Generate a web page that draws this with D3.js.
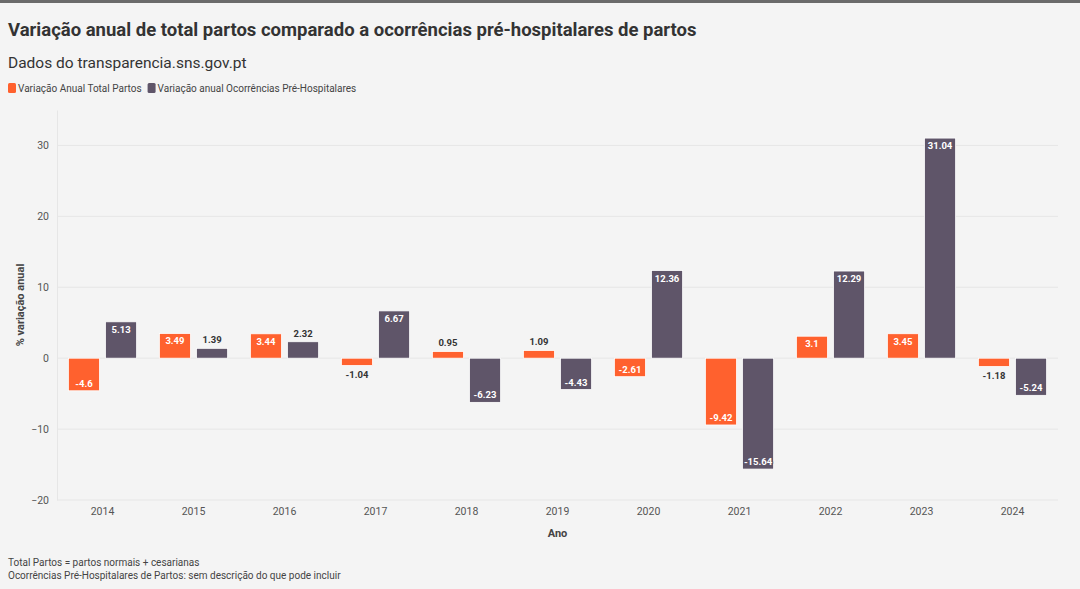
<!DOCTYPE html>
<html>
<head>
    <meta charset="utf-8">
    <title>Variação anual partos</title>
    <script src="https://cdnjs.cloudflare.com/ajax/libs/d3/7.8.5/d3.min.js"></script>
    <style>
        body { margin: 0; background: #f4f4f4; font-family: Roboto, "Noto Sans", sans-serif; }
        .topbar { height: 3px; background: #6b6b6b; }
    </style>
</head>
<body>
    <div class="topbar"></div>
    <div id="chart"></div>
    <script>
        const years = ["2014", "2015", "2016", "2017", "2018", "2019", "2020", "2021", "2022", "2023", "2024"];
        const totalPartos = [-4.6, 3.49, 3.44, -1.04, 0.95, 1.09, -2.61, -9.42, 3.1, 3.45, -1.18];
        const ocorrencias = [5.13, 1.39, 2.32, 6.67, -6.23, -4.43, 12.36, -15.64, 12.29, 31.04, -5.24];
        const seriesNames = ["Variação Anual Total Partos", "Variação anual Ocorrências Pré-Hospitalares"];
        const colors = ["#ff612e", "#5f5569"];
        const yTicks = [-20, -10, 0, 10, 20, 30];

        const width = 1080, height = 586;
        const margin = { top: 107, right: 22, bottom: 89, left: 57 };

        const svg = d3.select("#chart")
            .append("svg")
            .attr("width", width)
            .attr("height", height)
            .style("display", "block");

        // titles
        svg.append("text")
            .attr("x", 8).attr("y", 33)
            .attr("font-size", 18.5).attr("font-weight", 700).attr("fill", "#333")
            .text("Variação anual de total partos comparado a ocorrências pré-hospitalares de partos");
        svg.append("text")
            .attr("x", 8).attr("y", 65)
            .attr("font-size", 15.5).attr("fill", "#333")
            .text("Dados do transparencia.sns.gov.pt");

        // legend
        const legend = svg.append("g").attr("transform", "translate(8,80)");
        let lx = 0;
        seriesNames.forEach((name, i) => {
            const g = legend.append("g").attr("transform", `translate(${lx},0)`);
            g.append("rect").attr("width", 8).attr("height", 10).attr("rx", 1.5).attr("fill", colors[i]);
            const t = g.append("text").attr("x", 10).attr("y", 9)
                .attr("font-size", 10).attr("fill", "#444").text(name);
            lx += 10 + t.node().getComputedTextLength() + 6;
        });

        const x = d3.scaleBand()
            .domain(years)
            .range([margin.left, width - margin.right])
            .paddingInner(0.25)
            .paddingOuter(0.125);

        const xSub = d3.scaleBand()
            .domain([0, 1])
            .range([0, x.bandwidth()])
            .paddingInner(0.16);

        const y = d3.scaleLinear()
            .domain([-20, 35])
            .range([height - margin.bottom, margin.top]);

        // grid
        svg.append("g")
            .selectAll("line")
            .data(yTicks)
            .join("line")
            .attr("x1", margin.left).attr("x2", width - margin.right)
            .attr("y1", d => y(d)).attr("y2", d => y(d))
            .attr("stroke", "#e6e6e6").attr("stroke-width", 1);

        // y axis
        const yAxis = svg.append("g")
            .attr("transform", `translate(${margin.left},0)`)
            .call(d3.axisLeft(y).tickValues(yTicks).tickSize(0).tickPadding(8));
        yAxis.select(".domain").attr("stroke", "#e6e6e6");
        yAxis.selectAll("text").attr("font-size", 10.5).attr("fill", "#555").attr("font-family", "Roboto, sans-serif");

        // x axis
        const xAxis = svg.append("g")
            .attr("transform", `translate(0,${y(-20)})`)
            .call(d3.axisBottom(x).tickSize(0).tickPadding(8));
        xAxis.select(".domain").remove();
        xAxis.selectAll("text").attr("font-size", 10.5).attr("fill", "#555").attr("font-family", "Roboto, sans-serif");

        svg.append("text")
            .attr("transform", `translate(24,${(y(35) + y(-20)) / 2}) rotate(-90)`)
            .attr("text-anchor", "middle")
            .attr("font-size", 11).attr("font-weight", 700).attr("fill", "#444")
            .text("% variação anual");
        svg.append("text")
            .attr("x", (margin.left + width - margin.right) / 2).attr("y", 534)
            .attr("text-anchor", "middle")
            .attr("font-size", 11).attr("font-weight", 700).attr("fill", "#444")
            .text("Ano");

        // bars
        const rows = years.map((yr, i) => ({ year: yr, values: [totalPartos[i], ocorrencias[i]] }));
        const groups = svg.append("g")
            .selectAll("g")
            .data(rows)
            .join("g")
            .attr("transform", d => `translate(${x(d.year)},0)`);

        const cells = groups.selectAll("g")
            .data(d => d.values.map((v, i) => ({ v, i })))
            .join("g");

        cells.append("rect")
            .attr("x", d => xSub(d.i))
            .attr("width", xSub.bandwidth())
            .attr("y", d => y(Math.max(0, d.v)))
            .attr("height", d => Math.abs(y(d.v) - y(0)))
            .attr("fill", d => colors[d.i])
            .attr("stroke", "#ffffff").attr("stroke-width", 0.8);

        cells.append("text")
            .attr("x", d => xSub(d.i) + xSub.bandwidth() / 2)
            .attr("y", d => {
                const h = Math.abs(y(d.v) - y(0));
                const inside = h > 17;
                if (d.v >= 0) return inside ? y(d.v) + 11 : y(d.v) - 5;
                return inside ? y(d.v) - 4 : y(d.v) + 12;
            })
            .attr("text-anchor", "middle")
            .attr("font-size", 9.5).attr("font-weight", 700)
            .attr("paint-order", "stroke")
            .attr("stroke-width", 2.2)
            .attr("stroke-linejoin", "round")
            .attr("fill", d => Math.abs(y(d.v) - y(0)) > 17 ? "#fff" : "#333")
            .attr("stroke", d => Math.abs(y(d.v) - y(0)) > 17 ? colors[d.i] : "#f4f4f4")
            .text(d => d.v);

        // notes
        svg.append("text")
            .attr("x", 8).attr("y", 563)
            .attr("font-size", 10).attr("fill", "#444")
            .text("Total Partos = partos normais + cesarianas");
        svg.append("text")
            .attr("x", 8).attr("y", 576)
            .attr("font-size", 10).attr("fill", "#444")
            .text("Ocorrências Pré-Hospitalares de Partos: sem descrição do que pode incluir");
    </script>
</body>
</html>
